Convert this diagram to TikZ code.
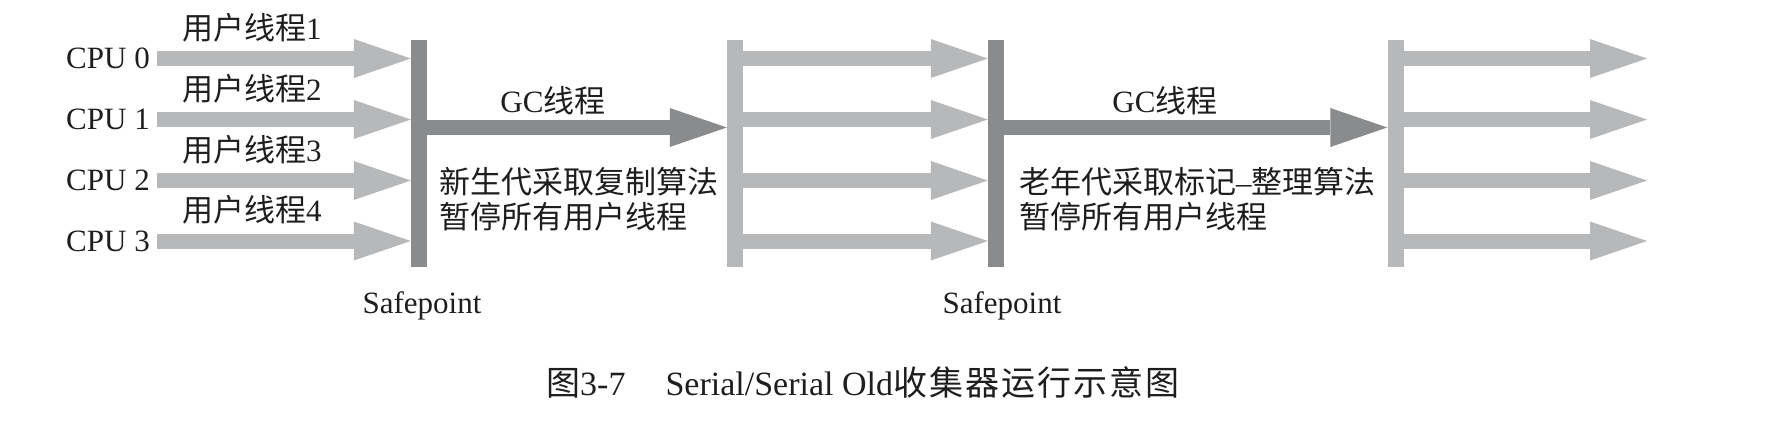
\documentclass[tikz,border=0pt]{standalone}
\usepackage{fontspec}
\setmainfont{Liberation Serif}
\newfontfamily\cjk{Noto Sans CJK SC}
\usepackage{xcolor}
\definecolor{LightGray}{RGB}{182,184,186}
\definecolor{DarkGray}{RGB}{137,139,141}
\definecolor{Black}{RGB}{30,30,30}
\usetikzlibrary{arrows.meta}
\newcommand{\gap}{\hspace{2pt}}

\begin{document}
\begin{tikzpicture}[x=1pt, y=-1pt,
		bar/.style={inner sep=0pt, minimum width=16pt, minimum height=227pt},
		thread/.style={line width=15pt, -{Triangle[length=57pt, width=39pt, line width=0pt]}},
		txt/.style={inner sep=0pt, color=Black, font=\fontsize{31}{35}\selectfont},
		cjktxt/.style={inner sep=0pt, color=Black, font=\cjk\fontsize{31}{35}\selectfont}]

		\useasboundingbox (0,0) rectangle (1774,422);

		% Bars
		\node[bar, fill=DarkGray]  (sp1)  at (419,153.5) {};
		\node[bar, fill=LightGray] (run1) at (735,153.5) {};
		\node[bar, fill=DarkGray]  (sp2)  at (996,153.5) {};
		\node[bar, fill=LightGray] (run2) at (1395.5,153.5) {};

		% User threads
		\foreach \i/\y in {0/58.5,1/119.5,2/180.5,3/241}{
			\pgfmathtruncatemacro{\n}{\i+1}
			\node[txt, anchor=east, inner xsep=7pt] (cpu\i) at (157,\y) {CPU \i};
			\node[txt, anchor=base west] (usr\i) at (182,\y-19) {{\cjk 用户线程}\n};
			\coordinate (end\i) at (1647,\y);
			\draw[thread, LightGray] (cpu\i.east) -- (cpu\i.east -| sp1.west);
			\draw[thread, LightGray] (run1.east |- cpu\i) -- (cpu\i -| sp2.west);
			\draw[thread, LightGray] (run2.east |- cpu\i) -- (end\i);
		}

		% GC threads
		\draw[thread, DarkGray] ([yshift=26pt]sp1.east) -- ([yshift=26pt]run1.west);
		\draw[thread, DarkGray] ([yshift=26pt]sp2.east) -- ([yshift=26pt]run2.west);

		% Text
		\node[txt, anchor=base] (gc1) at (553,113) {GC{\cjk 线程}};
		\node[txt, anchor=base] (gc2) at (1165,113) {GC{\cjk 线程}};
		\node[cjktxt, anchor=base west, align=left] (young) at (439,228) {新生代采取复制算法\\暂停所有用户线程};
		\node[cjktxt, anchor=base west, align=left] (old) at (1019,228) {老年代采取标记{\rmfamily –}整理算法\\暂停所有用户线程};
		\node[txt, anchor=base] (safe1) at (422,313) {Safepoint};
		\node[txt, anchor=base] (safe2) at (1002,313) {Safepoint};

		% Caption
		\node[txt, anchor=base west, font=\fontsize{34}{40}\selectfont] (caption) at (546,395)
			{{\cjk 图}3-7\hspace{40pt}Serial/Serial Old{\cjk 收\gap 集\gap 器\gap 运\gap 行\gap 示\gap 意\gap 图}};

	\end{tikzpicture}
\end{document}
